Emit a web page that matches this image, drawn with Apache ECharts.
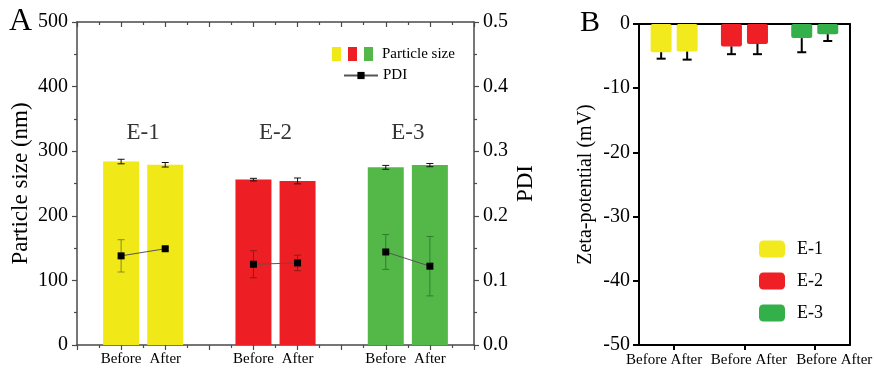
<!DOCTYPE html>
<html>
<head>
<meta charset="utf-8">
<script src="https://cdn.jsdelivr.net/npm/echarts@6/dist/echarts.min.js"></script>
<style>
html,body{margin:0;padding:0;background:#fff;}
#chart{width:875px;height:368px;}
</style>
</head>
<body>
<div id="chart"></div>
<script>
// ---------------- data ----------------
const groups = ['E-1', 'E-2', 'E-3'];
const conditions = ['Before', 'After'];
// Panel A: particle size (nm)
const sizeBefore = [284, 256, 275];
const sizeAfter = [279, 254, 278.5];
const sizeErrBefore = [3.5, 2, 3];
const sizeErrAfter = [3.5, 4.5, 2.5];
// Panel A: PDI
const pdiBefore = [0.138, 0.125, 0.144];
const pdiAfter = [0.149, 0.127, 0.122];
const pdiErrBefore = [0.025, 0.021, 0.027];
const pdiErrAfter = [0.002, 0.012, 0.046];
// Panel B: zeta potential (mV)
const zetaBefore = [-4.4, -3.5, -2.2];
const zetaAfter = [-4.3, -3.1, -1.6];
const zetaErrBefore = [1.0, 1.2, 2.2];
const zetaErrAfter = [1.25, 1.6, 1.05];
// axis ticks
const sizeTicks = {min: 0, max: 500, interval: 100};
const pdiTicks = {min: 0, max: 0.5, interval: 0.1};
const zetaTicks = {min: -50, max: 0, interval: 10};

// ---------------- styles ----------------
const FONT = 'Liberation Serif';
const colorsA = ['#f0e817', '#ed1f24', '#53b848'];
const colorsB = ['#f2ea1c', '#ee1f25', '#33b04a'];
const pdiErrColors = ['#8a8820', '#8e1b1b', '#2f7d34'];
const axisGrayA = '#4a4a4a';

// slot positions on panel A's x axis: group i, condition j -> 3*i + j + 1
const slotsPerGroup = conditions.length + 1;
const slotOf = (i, j) => slotsPerGroup * i + j + 1;
const nSlots = slotsPerGroup * groups.length;
const slotLabel = (v) => {
  const k = Math.round(v) % slotsPerGroup;
  return k === 0 ? '' : conditions[k - 1];
};

const sizeVals = [sizeBefore, sizeAfter];
const sizeErrs = [sizeErrBefore, sizeErrAfter];
const pdiVals = [pdiBefore, pdiAfter];
const pdiErrs = [pdiErrBefore, pdiErrAfter];
const zetaVals = [zetaBefore, zetaAfter];
const zetaErrs = [zetaErrBefore, zetaErrAfter];

const barData = [], barErr = [], pdiLine = [], pdiErr = [], groupLabels = [];
groups.forEach((g, i) => {
  conditions.forEach((c, j) => {
    const x = slotOf(i, j);
    barData.push({value: [x, sizeVals[j][i]], itemStyle: {color: colorsA[i]}});
    barErr.push([x, sizeVals[j][i] - sizeErrs[j][i], sizeVals[j][i] + sizeErrs[j][i], i]);
    pdiLine.push([x, pdiVals[j][i]]);
    pdiErr.push([x, pdiVals[j][i] - pdiErrs[j][i], pdiVals[j][i] + pdiErrs[j][i], i]);
  });
  if (i < groups.length - 1) pdiLine.push([slotOf(i, conditions.length), '-']);
  groupLabels.push([(slotOf(i, 0) + slotOf(i, conditions.length - 1)) / 2, 328, g]);
});

function errRender(colorFn, cap, lw) {
  return function (params, api) {
    const x = api.value(0);
    const lo = api.coord([x, api.value(1)]);
    const hi = api.coord([x, api.value(2)]);
    const col = colorFn(api.value(3));
    const st = {stroke: col, lineWidth: lw};
    const h = cap / 2;
    return {type: 'group', children: [
      {type: 'line', shape: {x1: lo[0], y1: lo[1], x2: hi[0], y2: hi[1]}, style: st},
      {type: 'line', shape: {x1: lo[0] - h, y1: lo[1], x2: lo[0] + h, y2: lo[1]}, style: st},
      {type: 'line', shape: {x1: hi[0] - h, y1: hi[1], x2: hi[0] + h, y2: hi[1]}, style: st}
    ]};
  };
}

// Panel B series (stacked per condition so each group keeps its colour/legend name)
const seriesB = [];
conditions.forEach((c, j) => {
  groups.forEach((g, i) => {
    seriesB.push({
      type: 'bar', name: g, xAxisIndex: 2, yAxisIndex: 2, stack: c,
      barWidth: 21, barGap: '24%',
      itemStyle: {color: colorsB[i], borderRadius: 2},
      data: groups.map((_, k) => (k === i ? zetaVals[j][i] : '-')),
      z: 2
    });
  });
});
const zetaErrData = [];
groups.forEach((g, i) => conditions.forEach((c, j) => {
  zetaErrData.push([i, j, zetaVals[j][i], zetaVals[j][i] - zetaErrs[j][i]]);
}));

const lineA = {show: true, onZero: false, lineStyle: {color: axisGrayA, width: 1.5}};
const lineB = {show: true, onZero: false, lineStyle: {color: '#000', width: 2}};

const option = {
  animation: false,
  textStyle: {fontFamily: FONT, color: '#000'},
  grid: [
    {left: 77, top: 22, width: 397, height: 323},
    {left: 639, top: 24, width: 213, height: 321}
  ],
  legend: [
    {
      data: ['PDI'], left: 338, top: 63, itemWidth: 34, itemHeight: 9, selectedMode: false,
      textStyle: {fontFamily: FONT, fontSize: 15, color: '#000'}
    },
    {
      data: groups, orient: 'vertical', left: 754, top: 235, itemWidth: 26, itemHeight: 17,
      itemGap: 14, icon: 'roundRect', selectedMode: false,
      textStyle: {fontFamily: FONT, fontSize: 18, color: '#000', padding: [0, 0, 0, 7]}
    }
  ],
  xAxis: [
    {
      gridIndex: 0, type: 'value', min: 0, max: nSlots, interval: 1, position: 'bottom',
      axisLine: lineA,
      axisTick: {show: true, inside: false, length: 5, lineStyle: {color: axisGrayA, width: 1.2}},
      minorTick: {show: true, splitNumber: 2, length: 3, lineStyle: {color: axisGrayA, width: 1.2}},
      axisLabel: {formatter: slotLabel, fontFamily: FONT, fontSize: 15, color: '#000', margin: 7},
      splitLine: {show: false}, minorSplitLine: {show: false}
    },
    {
      gridIndex: 0, type: 'value', min: 0, max: nSlots, interval: 1, position: 'top',
      axisLine: lineA,
      axisTick: {show: true, inside: true, length: 5, lineStyle: {color: axisGrayA, width: 1.2}},
      minorTick: {show: true, splitNumber: 2, length: 3, lineStyle: {color: axisGrayA, width: 1.2}},
      axisLabel: {show: false}, splitLine: {show: false}
    },
    {
      gridIndex: 1, type: 'category', data: groups, position: 'bottom',
      axisLine: lineB,
      axisTick: {show: true, alignWithLabel: true, length: 5, lineStyle: {color: '#000', width: 2}},
      axisLabel: {
        interval: 0, margin: 8, fontFamily: FONT, fontSize: 15, color: '#000',
        formatter: (v, idx) => '{g' + idx + '|' + conditions.join(' ') + '}',
        rich: {
          g0: {fontFamily: FONT, fontSize: 15, color: '#000', padding: [0, 20, 0, 0]},
          g1: {fontFamily: FONT, fontSize: 15, color: '#000', padding: [0, 0, 0, 9]},
          g2: {fontFamily: FONT, fontSize: 15, color: '#000', padding: [0, 0, 0, 39]}
        }
      },
      splitLine: {show: false}
    },
    {
      gridIndex: 1, type: 'category', data: groups, position: 'top',
      axisLine: lineB, axisTick: {show: false}, axisLabel: {show: false}
    }
  ],
  yAxis: [
    {
      gridIndex: 0, type: 'value', position: 'left', ...sizeTicks,
      name: 'Particle size (nm)', nameLocation: 'middle', nameGap: 45,
      nameTextStyle: {fontFamily: FONT, fontSize: 23, color: '#000'},
      axisLine: lineA,
      axisTick: {show: true, length: 5, lineStyle: {color: axisGrayA, width: 1.2}},
      minorTick: {show: true, splitNumber: 2, length: 3, lineStyle: {color: axisGrayA, width: 1.2}},
      axisLabel: {fontFamily: FONT, fontSize: 20, color: '#000', margin: 9},
      splitLine: {show: false}
    },
    {
      gridIndex: 0, type: 'value', position: 'right', ...pdiTicks,
      name: 'PDI', nameLocation: 'middle', nameGap: 40,
      nameTextStyle: {fontFamily: FONT, fontSize: 23, color: '#000'},
      axisLine: lineA,
      axisTick: {show: true, length: 5, lineStyle: {color: axisGrayA, width: 1.2}},
      minorTick: {show: true, splitNumber: 2, length: 3, lineStyle: {color: axisGrayA, width: 1.2}},
      axisLabel: {fontFamily: FONT, fontSize: 20, color: '#000', margin: 9, formatter: v => v.toFixed(1)},
      splitLine: {show: false}
    },
    {
      gridIndex: 1, type: 'value', position: 'left', ...zetaTicks,
      name: 'Zeta-potential (mV)', nameLocation: 'middle', nameGap: 43,
      nameTextStyle: {fontFamily: FONT, fontSize: 20, color: '#000'},
      axisLine: lineB,
      axisTick: {show: true, length: 6, lineStyle: {color: '#000', width: 2}},
      axisLabel: {fontFamily: FONT, fontSize: 20, color: '#000', margin: 9},
      splitLine: {show: false}
    },
    {
      gridIndex: 1, type: 'value', position: 'right', ...zetaTicks,
      axisLine: lineB, axisTick: {show: false}, axisLabel: {show: false}, splitLine: {show: false}
    }
  ],
  graphic: [
    {type: 'text', left: 9, top: 6, style: {text: 'A', fontFamily: FONT, fontSize: 32, fill: '#000'}},
    {type: 'text', left: 580, top: 8, style: {text: 'B', fontFamily: FONT, fontSize: 30, fill: '#000'}},
    {type: 'rect', shape: {x: 332, y: 47, width: 9, height: 14}, style: {fill: colorsA[0]}},
    {type: 'rect', shape: {x: 348, y: 47, width: 9, height: 14}, style: {fill: colorsA[1]}},
    {type: 'rect', shape: {x: 364, y: 47, width: 9, height: 14}, style: {fill: colorsA[2]}},
    {type: 'text', x: 382, y: 54, style: {text: 'Particle size', fontFamily: FONT, fontSize: 15, fill: '#000', verticalAlign: 'middle'}}
  ],
  series: [
    {
      type: 'bar', name: 'Particle size', xAxisIndex: 0, yAxisIndex: 0,
      barWidth: 36, data: barData, z: 2
    },
    {
      type: 'custom', name: 'sizeErr', xAxisIndex: 0, yAxisIndex: 0, data: barErr, z: 3, silent: true,
      renderItem: errRender(() => '#111', 7, 1)
    },
    {
      type: 'custom', name: 'pdiErr', xAxisIndex: 0, yAxisIndex: 1, data: pdiErr, z: 4, silent: true,
      renderItem: errRender((i) => pdiErrColors[i], 7, 1)
    },
    {
      type: 'line', name: 'PDI', xAxisIndex: 0, yAxisIndex: 1, data: pdiLine, z: 5,
      symbol: 'rect', symbolSize: 7, connectNulls: false,
      itemStyle: {color: '#000'}, lineStyle: {color: '#555', width: 1}
    },
    {
      type: 'scatter', name: 'groupLabels', xAxisIndex: 0, yAxisIndex: 0, data: groupLabels,
      symbolSize: 0, silent: true,
      label: {show: true, position: 'inside', formatter: p => p.value[2], fontFamily: FONT, fontSize: 23, color: '#000'}
    },
    ...seriesB,
    {
      type: 'custom', name: 'zetaErr', xAxisIndex: 2, yAxisIndex: 2, data: zetaErrData, z: 4, silent: true,
      renderItem: function (params, api) {
        const c = api.value(0), j = api.value(1);
        const off = (j === 0 ? -1 : 1) * 13;
        const a = api.coord([c, api.value(2)]);
        const b = api.coord([c, api.value(3)]);
        const st = {stroke: '#000', lineWidth: 2};
        return {type: 'group', children: [
          {type: 'line', shape: {x1: a[0] + off, y1: a[1], x2: b[0] + off, y2: b[1]}, style: st},
          {type: 'line', shape: {x1: b[0] + off - 4.5, y1: b[1], x2: b[0] + off + 4.5, y2: b[1]}, style: st}
        ]};
      }
    }
  ]
};

const chart = echarts.init(document.getElementById('chart'), null, {renderer: 'canvas'});
chart.setOption(option);
</script>
</body>
</html>
